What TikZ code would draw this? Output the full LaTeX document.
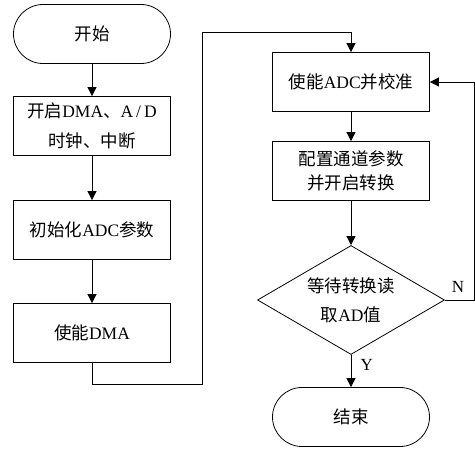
\documentclass[tikz,border=0pt]{standalone}
\usepackage{fontspec}
\setmainfont{Liberation Serif}
\newfontfamily\zh{Noto Sans CJK SC}
\usetikzlibrary{arrows.meta,shapes.geometric}

\begin{document}
\begin{tikzpicture}
  [x=1pt,y=-1pt,line width=0.8pt,
   every node/.style={draw,align=center,font=\fontsize{17.5}{30}\selectfont},
   proc/.style={rectangle,minimum width=157pt,minimum height=59pt,inner sep=0pt},
   term/.style={proc,rounded corners=29.5pt},
   decide/.style={diamond,shape aspect=1.72,minimum width=187pt,minimum height=109pt,inner sep=0pt},
   tag/.style={draw=none,font=\fontsize{17}{20}\selectfont},
   arr/.style={-{Triangle[length=9pt,width=9pt]}}]
  \useasboundingbox (0,0) rectangle (475,449);

  \node[term] (start) at (92,34)  {{\zh 开始}};
  \node[proc] (clk)   at (92,126) {{\zh 开启}DMA{\zh 、}A\,/\,D\\{\zh 时钟、中断}};
  \node[proc] (init)  at (92,230) {{\zh 初始化}ADC{\zh 参数}};
  \node[proc] (dma)   at (92,333) {{\zh 使能}DMA};

  \node[proc] (cal)   at (351,82)  {{\zh 使能}ADC{\zh 并校准}};
  \node[proc] (conv)  at (351,171) {{\zh 配置通道参数}\\[-6pt]{\zh 并开启转换}};
  \node[decide] (wait) at (351,300) {{\zh 等待转换读}\\[-1pt]{\zh 取}AD{\zh 值}};
  \node[term] (stop)  at (351,417) {{\zh 结束}};

  \coordinate (k1) at (202,384);
  \coordinate (k2) at (202,32);
  \coordinate (k3) at (474,300);

  \foreach \from/\to in {start/clk, clk/init, init/dma, cal/conv, conv/wait}
    \draw [arr] (\from) -- (\to);

  \draw [arr] (dma.south) |- (k1) -- (k2) -| (cal.north);
  \draw [arr] (wait.south) -- node[tag,right=6pt,pos=0.32] {Y} (stop.north);
  \draw [arr] (wait.east) -- node[tag,above=4pt,pos=0.45] {N} (k3) |- (cal.east);

\end{tikzpicture}
\end{document}
